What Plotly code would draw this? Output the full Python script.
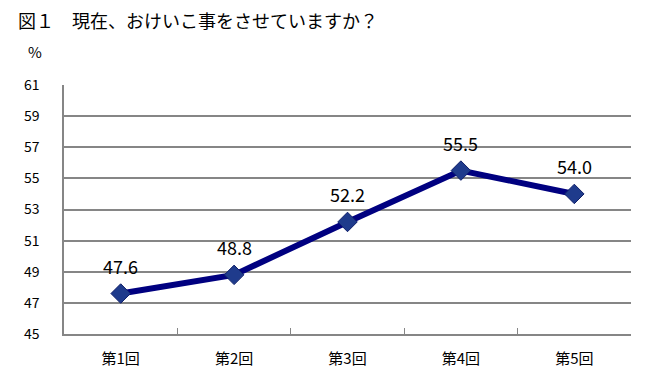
import plotly.graph_objects as go

categories = ["第1回", "第2回", "第3回", "第4回", "第5回"]
values = [47.6, 48.8, 52.2, 55.5, 54.0]
y_ticks = [45, 47, 49, 51, 53, 55, 57, 59, 61]
title_text = "図１　現在、おけいこ事をさせていますか？"

FONT = "Noto Sans CJK JP, Noto Sans, sans-serif"

# page body has an 8px margin, so the figure is drawn 8px in from the top-left
W, H = 641, 365

fig = go.Figure()
fig.add_trace(go.Scatter(
    x=categories, y=values, mode="lines+markers",
    line=dict(color="#000080", width=6),
    marker=dict(symbol="diamond", size=15, color="#1F3B8C",
                line=dict(color="#0F1F6A", width=1)),
    cliponaxis=False, showlegend=False,
))
for c, v in zip(categories, values):
    fig.add_annotation(x=c, y=v, text=f"{v:.1f}", showarrow=False,
                       yshift=28, font=dict(size=18, color="#000000", family=FONT))

fig.add_annotation(xref="paper", yref="paper", x=(35 - 64) / 567, y=(334 - 52) / 249,
                   xanchor="center", yanchor="middle", text="%", showarrow=False,
                   font=dict(size=15, color="#000000", family=FONT))

fig.update_layout(
    width=W, height=H,
    margin=dict(l=56, r=18, t=77, b=39),
    paper_bgcolor="white", plot_bgcolor="white",
    font=dict(family=FONT, color="#000000"),
    title=dict(text=title_text, x=10 / W, xanchor="left", y=1 - 14 / H, yanchor="middle",
               font=dict(size=18, family=FONT, color="#000000")),
    xaxis=dict(type="category", showgrid=False, showline=True, linecolor="#868686",
               linewidth=1.5, ticks="inside", tickson="boundaries", ticklen=6,
               tickcolor="#868686", tickfont=dict(size=15, family=FONT),
               ticklabelstandoff=10, automargin=False, range=[-0.5, 4.5]),
    yaxis=dict(range=[45, 61], tickvals=y_ticks, showgrid=True, gridcolor="#868686",
               gridwidth=1.5, showline=True, linecolor="#868686", linewidth=1.5,
               ticks="", ticklabelstandoff=20, tickfont=dict(size=14, family=FONT),
               automargin=False, zeroline=False),
)

fig.write_html("out.html")
